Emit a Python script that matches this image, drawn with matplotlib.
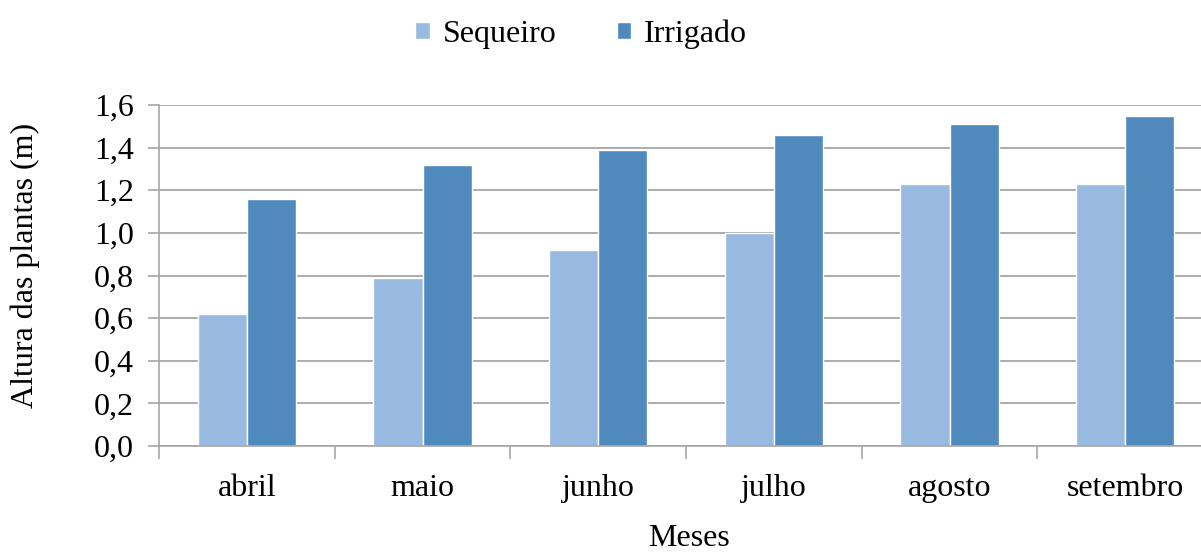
import matplotlib.pyplot as plt
import numpy as np

meses = ["abril", "maio", "junho", "julho", "agosto", "setembro"]
sequeiro = [0.62, 0.79, 0.92, 1.00, 1.23, 1.23]
irrigado = [1.16, 1.32, 1.39, 1.46, 1.51, 1.55]
yticks = [0.0, 0.2, 0.4, 0.6, 0.8, 1.0, 1.2, 1.4, 1.6]

plt.rcParams['font.family'] = ['Liberation Serif', 'DejaVu Serif']
fs = 23

fig = plt.figure(figsize=(12.01, 5.55), dpi=100)
ax = fig.add_axes([0.1324, 0.1964, 0.8776, 0.6144])

x = np.arange(len(meses))
w = 0.28
grey = '#a6a6a6'
ax.bar(x - w/2, sequeiro, w, color='#98b9e0', edgecolor='white', linewidth=1, label="Sequeiro")
ax.bar(x + w/2, irrigado, w, color='#508abc', edgecolor='white', linewidth=1, label="Irrigado")

ax.set_xlim(-0.5, len(meses) - 0.5)
ax.set_ylim(0, 1.6)
ax.set_yticks(yticks)
ax.set_yticklabels(["{:.1f}".format(v).replace(".", ",") for v in yticks])
ax.set_xticks(x)
ax.set_xticklabels(meses)
ax.set_xticks(np.arange(-0.5, len(meses)), minor=True)
ax.tick_params(axis='x', which='major', length=0, pad=20, labelsize=fs)
ax.tick_params(axis='x', which='minor', length=9, color=grey, width=1.2)
ax.tick_params(axis='y', length=8, color=grey, width=1.2, labelsize=fs, pad=10)

ax.set_axisbelow(True)
ax.yaxis.grid(True, color=grey, linewidth=1.3)
for s in ['top', 'right']:
	ax.spines[s].set_visible(False)
for s in ['left', 'bottom']:
	ax.spines[s].set_color(grey)
	ax.spines[s].set_linewidth(1.2)

fig.text(0.574, 0.004, "Meses", fontsize=fs, ha='center', va='bottom')
fig.text(0.009, 0.522, "Altura das plantas (m)", fontsize=fs, rotation=90, ha='left', va='center')

fig.legend(loc='upper center', bbox_to_anchor=(0.484, 1.017), ncol=2, frameon=False,
		fontsize=fs, handlelength=0.45, handleheight=0.45, handletextpad=0.4, columnspacing=1.9)

fig.savefig("out.png", dpi=100)
